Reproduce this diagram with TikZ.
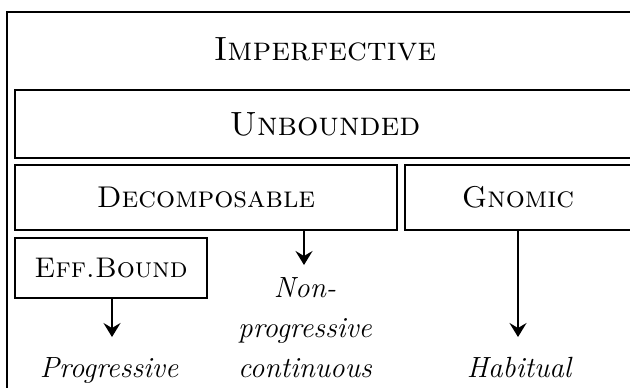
\documentclass[tikz,border=0pt]{standalone}
\usetikzlibrary{arrows.meta}
\begin{document}
\begin{tikzpicture}[x=0.5pt,y=-0.5pt,
  frame/.style={draw, line width=1pt},
  box/.style={draw, line width=1pt, inner sep=0pt, font=\fontsize{15}{18}\selectfont\scshape},
  bigsc/.style={inner sep=0pt, anchor=base, font=\fontsize{16.8}{20}\selectfont\scshape},
  itl/.style={inner sep=0pt, anchor=base, align=center, font=\fontsize{14.6}{20}\selectfont\itshape},
  arr/.style={line width=1pt, -{Stealth[length=7pt,width=8.5pt,inset=2.5pt]}}]
\useasboundingbox (0,0) rectangle (630,387);
\clip (0,0) rectangle (630,387);
\draw[frame] (7,12) rectangle (643,400);
\node[bigsc] (imp) at (325,60) {Imperfective};
\node[box, font=\fontsize{16.8}{20}\selectfont\scshape, minimum width=310pt, minimum height=34pt] (unb) at (325,124) {Unbounded};
\node[box, minimum width=191pt, minimum height=32.5pt] (dec) at (206,197.5) {Decomposable};
\node[box, minimum width=113pt, minimum height=32.5pt] (gno) at (518,197.5) {Gnomic};
\node[box, font=\fontsize{14.2}{18}\selectfont\scshape, minimum width=96pt, minimum height=30pt] (eff) at (111,268) {Eff.Bound};
\node[itl] (prog) at (109,377) {Progressive};
\node[itl] (non) at (305,377) {Non-\\progressive\\continuous};
\node[itl] (hab) at (519,377) {Habitual};
\coordinate (decout) at (304,230);
\coordinate (efftip) at (112,337);
\coordinate (dectip) at (304,265);
\coordinate (gnotip) at (518,337);
\draw[arr] (eff.south -| efftip) -- (efftip);
\draw[arr] (decout) -- (dectip);
\draw[arr] (gno.south) -- (gnotip);
\end{tikzpicture}
\end{document}
